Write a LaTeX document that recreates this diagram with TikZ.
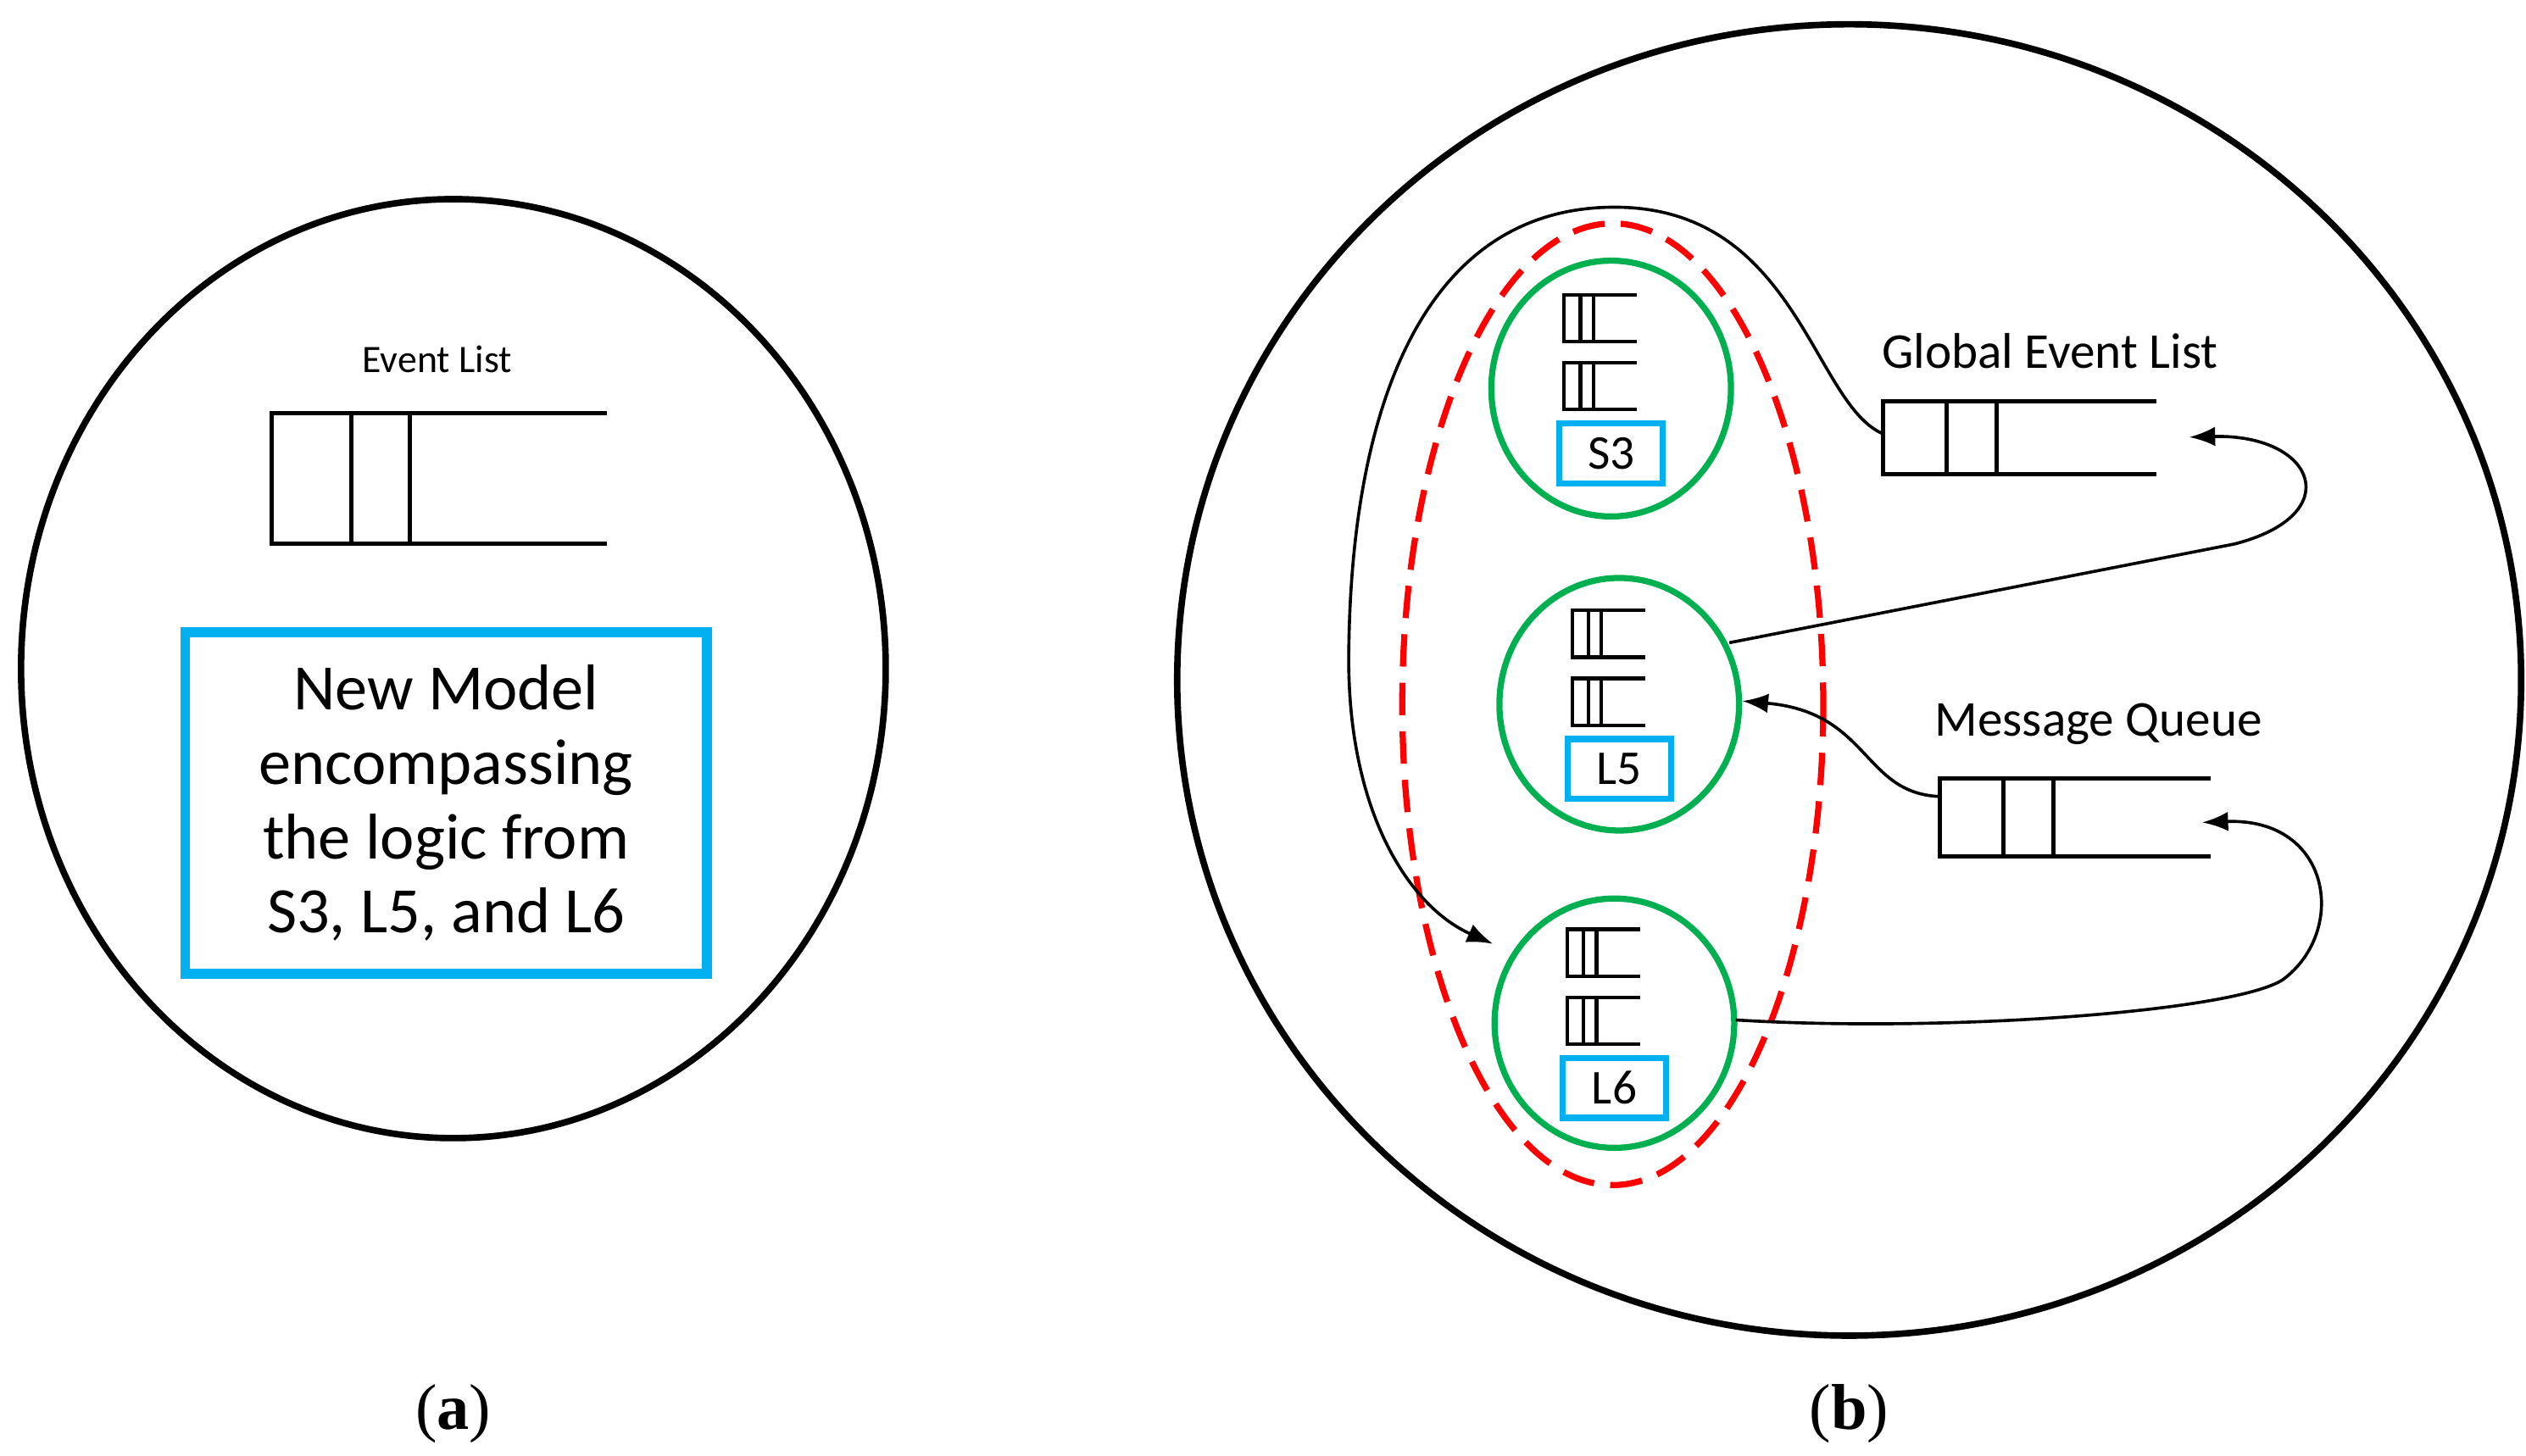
\documentclass[tikz,border=0pt]{standalone}
\usepackage{fontspec}
\setmainfont{Carlito}
\newfontfamily\serifc{Liberation Serif}
\usetikzlibrary{arrows.meta}
\definecolor{cblue}{RGB}{0,176,240}
\definecolor{cgreen}{RGB}{0,176,80}
\begin{document}
\begin{tikzpicture}[x=1pt,y=-1pt,
  blk/.style={line width=4pt},
  q/.style={line width=2.6pt},
  mq/.style={line width=2.2pt},
  conn/.style={line width=1.9pt},
  arr/.style={conn,-{Latex[length=16pt,width=12pt]}},
  grn/.style={cgreen,line width=3.8pt},
  lab/.style={draw=cblue,line width=3.8pt,minimum width=64pt,minimum height=37pt,font=\fontsize{30}{32}\selectfont,inner sep=0pt}]
\useasboundingbox (0,0) rectangle (1560,899);
% (a)
\draw[blk] (280,413) ellipse [x radius=267,y radius=290];
\node[font=\fontsize{24}{26}\selectfont] (el) at (270,222) {Event List};
\draw[q] (375,255) -- (168,255) -- (168,336) -- (375,336);
\draw[q] (217,255) -- (217,336) (253,255) -- (253,336);
\node[draw=cblue,line width=6pt,minimum width=322pt,minimum height=211pt,align=center,
  font=\fontsize{40}{46}\selectfont] (nm) at (275.5,496) {New Model\\encompassing\\the logic from\\S3, L5, and L6};
\node[font=\serifc\fontsize{40}{42}\selectfont] (ca) at (280,873) {(\textbf{a})};
% (b)
\draw[blk] (1142,420) ellipse [x radius=415,y radius=405];
\node[font=\serifc\fontsize{40}{42}\selectfont] (cb) at (1142,873) {(\textbf{b})};
\draw[red,line width=3.8pt,dash pattern=on 20pt off 10pt] (996,435) ellipse [x radius=130,y radius=297];
\foreach \n/\cx/\cy/\ry in {S3/995/240/79, L5/1000/435/78, L6/997/632/77}{
  \draw[grn] (\cx,\cy) ellipse [x radius=74,y radius=\ry];
  \foreach \dy in {-58,-16}{
    \begin{scope}[shift={(\cx-29,\cy+\dy)}]
      \draw[mq] (45,0) -- (0,0) -- (0,29) -- (45,29);
      \draw[mq] (10,0) -- (10,29) (18,0) -- (18,29);
    \end{scope}}
  \node[lab] (\n) at (\cx,\cy+40) {\n};
}
% global event list
\node[font=\fontsize{31}{33}\selectfont] (gel) at (1266,217) {Global Event List};
\draw[q] (1332,248) -- (1163,248) -- (1163,293) -- (1332,293);
\draw[q] (1202,248) -- (1202,293) (1233,248) -- (1233,293);
\coordinate (gq) at (1163,268);
\coordinate (gqr) at (1352,270);
% message queue
\node[font=\fontsize{31}{33}\selectfont] (mqt) at (1296,447) {Message Queue};
\draw[q] (1365,481) -- (1198,481) -- (1198,529) -- (1365,529);
\draw[q] (1237,481) -- (1237,529) (1268,481) -- (1268,529);
\coordinate (mq) at (1198,492);
\coordinate (mqr) at (1360,508);
% connectors
\coordinate (l6in) at (922,583);
\draw[arr] (gq) .. controls (1120,250) and (1110,130) .. (1000,128)
  .. controls (880,126) and (835,250) .. (833,400)
  .. controls (831,500) and (870,560) .. (l6in);
\coordinate (l5o) at (1068,397);
\draw[arr] (l5o) -- (1380,336) .. controls (1450,318) and (1430,268) .. (gqr);
\coordinate (l5i) at (1076,433);
\draw[arr] (mq) .. controls (1150,490) and (1155,440) .. (l5i);
\coordinate (l6o) at (1072,630);
\draw[arr] (l6o) .. controls (1200,638) and (1380,625) .. (1410,605)
  .. controls (1450,575) and (1440,505) .. (mqr);
\end{tikzpicture}
\end{document}
